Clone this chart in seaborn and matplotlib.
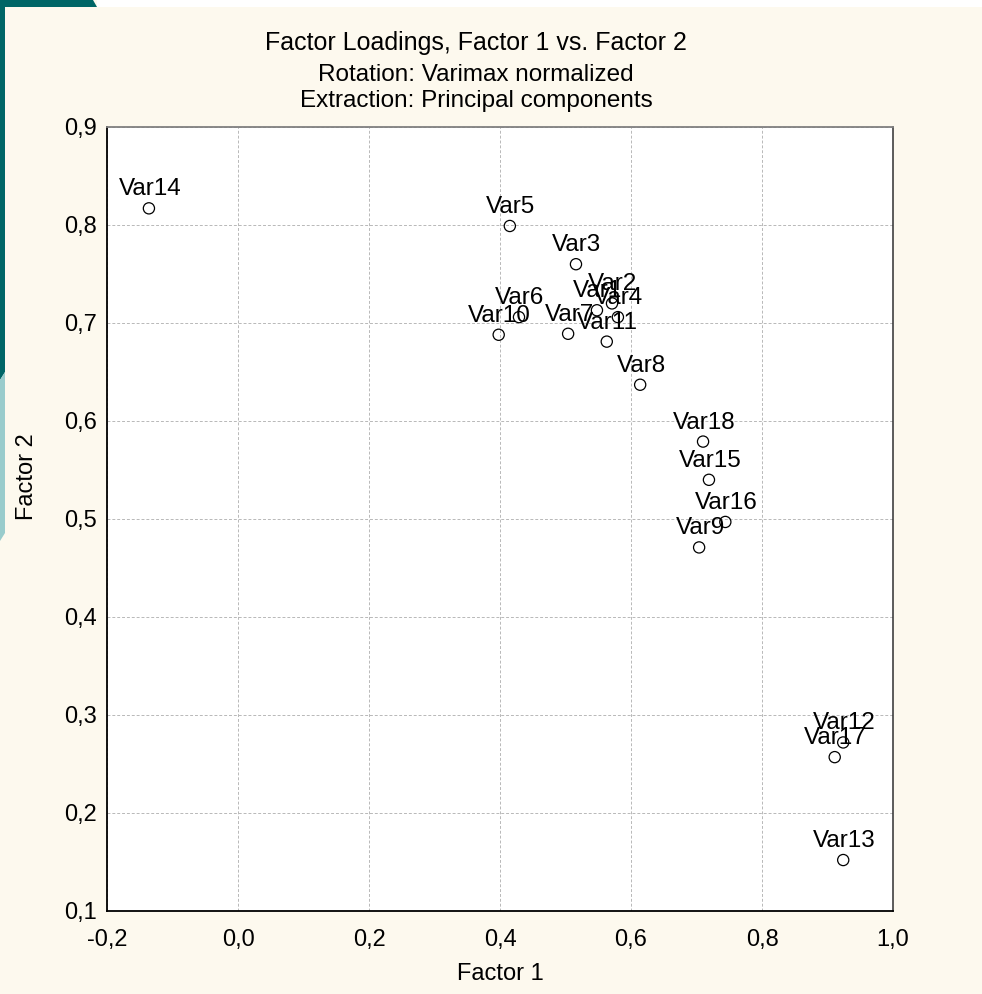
import matplotlib
matplotlib.use("Agg")
import matplotlib.pyplot as plt
from matplotlib.patches import Polygon
from matplotlib.ticker import FixedLocator, FixedFormatter
import seaborn as sns
import pandas as pd

# Factor loadings (varimax normalized, principal components)
variables = ["Var1", "Var2", "Var3", "Var4", "Var5", "Var6", "Var7", "Var8", "Var9",
             "Var10", "Var11", "Var12", "Var13", "Var14", "Var15", "Var16", "Var17", "Var18"]
factor1 = [0.548, 0.571, 0.516, 0.580, 0.415, 0.429, 0.504, 0.614, 0.704,
           0.398, 0.563, 0.924, 0.924, -0.136, 0.719, 0.744, 0.911, 0.710]
factor2 = [0.713, 0.720, 0.760, 0.706, 0.799, 0.706, 0.689, 0.637, 0.471,
           0.688, 0.681, 0.272, 0.152, 0.817, 0.540, 0.497, 0.257, 0.579]

x_ticks = [-0.2, 0.0, 0.2, 0.4, 0.6, 0.8, 1.0]
x_tick_labels = ["-0,2", "0,0", "0,2", "0,4", "0,6", "0,8", "1,0"]
y_ticks = [0.1, 0.2, 0.3, 0.4, 0.5, 0.6, 0.7, 0.8, 0.9]
y_tick_labels = ["0,1", "0,2", "0,3", "0,4", "0,5", "0,6", "0,7", "0,8", "0,9"]

title_lines = ["Factor Loadings, Factor 1 vs. Factor 2",
               "Rotation: Varimax normalized",
               "Extraction: Principal components"]

df = pd.DataFrame({"Variable": variables, "Factor 1": factor1, "Factor 2": factor2})

sns.set_style("white")
plt.rcParams["font.family"] = ["Liberation Sans", "DejaVu Sans"]

W, H = 982, 994
CREAM = "#fdf9ee"
fig = plt.figure(figsize=(W / 100, H / 100), dpi=100, facecolor=CREAM)


def px(x, y):
    return (x / W, 1 - y / H)


# slide decoration along the top-left edge
fig.add_artist(Polygon([px(97, 0), px(W, 0), px(W, 7), px(97, 7)],
                       closed=True, transform=fig.transFigure, facecolor="white", edgecolor="none"))
fig.add_artist(Polygon([px(0, 0), px(93, 0), px(97, 7), px(5, 7), px(5, 372), px(0, 380)],
                       closed=True, transform=fig.transFigure, facecolor="#006666", edgecolor="none"))
fig.add_artist(Polygon([px(0, 380), px(5, 372), px(5, 533), px(0, 541)],
                       closed=True, transform=fig.transFigure, facecolor="#99cccc", edgecolor="none"))

ax = fig.add_axes([107 / W, 1 - 911 / H, 786 / W, 784 / H])
ax.set_facecolor("white")

sns.scatterplot(data=df, x="Factor 1", y="Factor 2", ax=ax, marker="o", s=65,
                color="black", facecolor="none", edgecolor="black", linewidth=0.9,
                zorder=3)

for name, fx, fy in zip(df["Variable"], df["Factor 1"], df["Factor 2"]):
    ax.annotate(name, (fx, fy), xytext=(1, 19), textcoords="offset pixels",
                ha="center", va="center", fontsize=17.5, color="black", zorder=4)

ax.set_xlim(-0.2, 1.0)
ax.set_ylim(0.1, 0.9)
ax.xaxis.set_major_locator(FixedLocator(x_ticks))
ax.xaxis.set_major_formatter(FixedFormatter(x_tick_labels))
ax.yaxis.set_major_locator(FixedLocator(y_ticks))
ax.yaxis.set_major_formatter(FixedFormatter(y_tick_labels))
ax.tick_params(axis="both", length=0, labelsize=17, colors="black")
ax.tick_params(axis="x", pad=13)
ax.tick_params(axis="y", pad=7)

ax.grid(True, color="#b8b8b8", linestyle=(0, (3, 2)), linewidth=0.7)
ax.set_axisbelow(True)

for side in ("left", "bottom"):
    ax.spines[side].set_color("black")
    ax.spines[side].set_linewidth(1.3)
ax.spines["top"].set_color("#808080")
ax.spines["top"].set_linewidth(1.3)
ax.spines["right"].set_color("#303030")
ax.spines["right"].set_linewidth(1.1)
for sp in ax.spines.values():
    sp.set_visible(True)

ax.set_xlabel("Factor 1", fontsize=17, color="black")
ax.set_ylabel("Factor 2", fontsize=17, color="black")
ax.xaxis.label.set_va("center")
ax.yaxis.label.set_va("center")
ax.xaxis.set_label_coords(0.5, -(974 - 911) / 784)
ax.yaxis.set_label_coords((27 - 107) / 786, (911 - 477) / 784)

for line, yb, size in zip(title_lines, [50, 81, 107], [18, 17.5, 17.5]):
    fig.text(476 / W, 1 - yb / H, line, ha="center", va="baseline",
             fontsize=size, color="black")

fig.savefig("out.png", dpi=100, facecolor=CREAM)
